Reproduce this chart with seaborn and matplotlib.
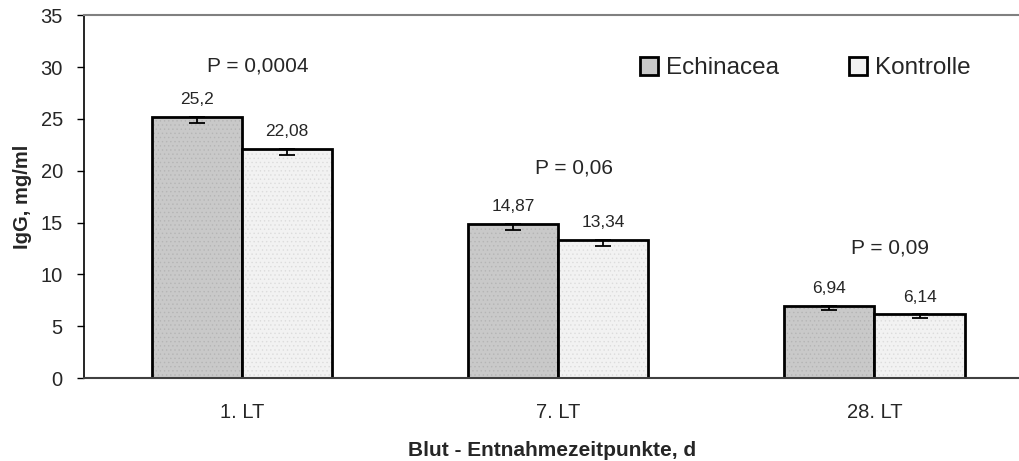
import numpy as np
import pandas as pd
import matplotlib
matplotlib.use("Agg")
import matplotlib.pyplot as plt
import seaborn as sns

# data
categories = ["1. LT", "7. LT", "28. LT"]
echinacea = [25.2, 14.87, 6.94]
kontrolle = [22.08, 13.34, 6.14]
echinacea_err = [0.6, 0.6, 0.4]
kontrolle_err = [0.6, 0.6, 0.35]
value_labels_e = ["25,2", "14,87", "6,94"]
value_labels_k = ["22,08", "13,34", "6,14"]
p_labels = ["P = 0,0004", "P = 0,06", "P = 0,09"]
p_label_y = [30.1, 20.3, 12.5]

sns.set_style("white")
plt.rcParams["font.family"] = ["Liberation Sans", "DejaVu Sans"]

df = pd.DataFrame({
    "Zeitpunkt": categories * 2,
    "Gruppe": ["Echinacea"] * 3 + ["Kontrolle"] * 3,
    "IgG": echinacea + kontrolle,
})

fig = plt.figure(figsize=(10.2, 4.61), dpi=100)
ax = fig.add_axes([0.082, 0.18, 0.918, 0.787])

palette = {"Echinacea": "#c9c9c9", "Kontrolle": "#f2f2f2"}
sns.barplot(data=df, x="Zeitpunkt", y="IgG", hue="Gruppe", order=categories,
            hue_order=["Echinacea", "Kontrolle"], palette=palette,
            width=0.57, edgecolor="black", linewidth=2, errorbar=None,
            saturation=1, ax=ax)

# fine dotted texture like the original fills
for bars, hc in zip(ax.containers, ["#b5b5b5", "#dcdcdc"]):
    for p in bars:
        p.set_hatch("....")
        p._hatch_color = matplotlib.colors.to_rgba(hc)
        p.set_hatch_linewidth(0.5)

# error bars (lower only) and value labels
for bars, vals, errs, labs in zip(ax.containers,
                                  [echinacea, kontrolle],
                                  [echinacea_err, kontrolle_err],
                                  [value_labels_e, value_labels_k]):
    xs = [p.get_x() + p.get_width() / 2 for p in bars]
    ax.errorbar(xs, vals, yerr=[errs, [0] * len(errs)], fmt="none",
                ecolor="black", elinewidth=1.3, capsize=6, capthick=1.3,
                zorder=5)
    for x, v, lab in zip(xs, vals, labs):
        ax.annotate(lab, (x, v), xytext=(0, 7), textcoords="offset points",
                    ha="center", va="bottom", fontsize=12.5)

for i, (lab, yy) in enumerate(zip(p_labels, p_label_y)):
    ax.text(i + 0.05, yy, lab, ha="center", va="center", fontsize=15)

ax.set_ylim(0, 35)
ax.set_yticks(range(0, 36, 5))
ax.set_xlim(-0.5, 2.46)
ax.tick_params(axis="y", labelsize=14.5, length=5, width=1, color="black",
               direction="out", left=True, pad=10)
ax.tick_params(axis="x", labelsize=14.5, length=0, pad=18)

ax.set_xlabel("Blut - Entnahmezeitpunkte, d", fontsize=15, fontweight="bold",
              labelpad=14)
ax.set_ylabel("IgG, mg/ml", fontsize=14.5, fontweight="bold", labelpad=6)

ax.spines["right"].set_visible(False)
ax.spines["left"].set_color("black")
ax.spines["left"].set_linewidth(1.2)
ax.spines["top"].set_color("#808080")
ax.spines["top"].set_linewidth(1.5)
ax.spines["bottom"].set_color("#404040")
ax.spines["bottom"].set_linewidth(1.5)

leg = ax.legend(loc="center right", bbox_to_anchor=(0.96, 0.854), ncol=2,
                frameon=False, fontsize=17.5, handlelength=0.75, handleheight=0.75,
                handletextpad=0.3, columnspacing=2.9, borderpad=0)
for h in leg.legend_handles:
    h.set_linewidth(2)
    h.set_edgecolor("black")

fig.savefig("out.png", dpi=100)
